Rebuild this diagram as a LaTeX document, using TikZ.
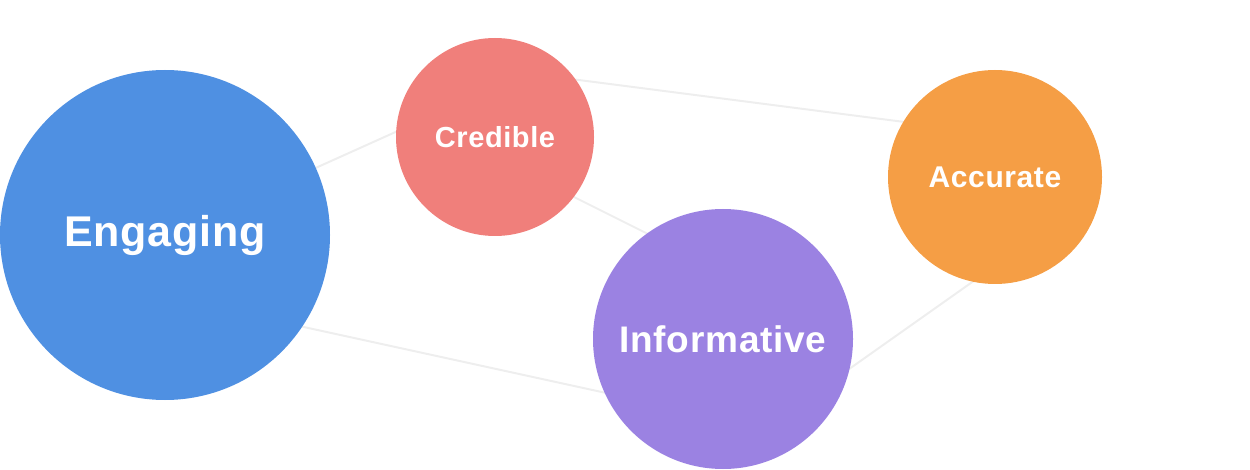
\documentclass[tikz,border=0pt]{standalone}
\usepackage{fontspec}
\setmainfont{Liberation Sans}[LetterSpace=2]
\definecolor{engblue}{HTML}{4F90E2}
\definecolor{credred}{HTML}{F07F7B}
\definecolor{accorange}{HTML}{F59E45}
\definecolor{infpurple}{HTML}{9B82E2}
\definecolor{linkgray}{HTML}{EEEEEE}
\tikzset{
  bubble/.style={circle, inner sep=0pt, text=white, font=\bfseries},
  link/.style={draw=linkgray, line width=2pt},
}
\begin{document}
\begin{tikzpicture}[x=1pt, y=-1pt]
  \useasboundingbox (0,0) rectangle (1250,470);
  % connector end points, hidden under the bubbles
  \coordinate (ec) at (300,175);  \coordinate (ce) at (420,121);
  \coordinate (ca) at (540,75);   \coordinate (ac) at (920,124);
  \coordinate (ci) at (560,190);  \coordinate (ic) at (660,240);
  \coordinate (ei) at (290,324);  \coordinate (ie) at (620,396);
  \coordinate (ia) at (835,379);  \coordinate (ai) at (985,273);
  \draw[link] (ec) -- (ce);
  \draw[link] (ca) -- (ac);
  \draw[link] (ci) -- (ic);
  \draw[link] (ei) -- (ie);
  \draw[link] (ia) -- (ai);
  % bubbles
  \node[bubble, fill=engblue, minimum size=330pt, font=\bfseries\fontsize{43}{50}\selectfont] (eng) at (165,235) {Engaging};
  \node[bubble, fill=credred, minimum size=198pt, font=\bfseries\fontsize{29}{34}\selectfont] (cred) at (495,137) {Credible};
  \node[bubble, fill=accorange, minimum size=214pt, font=\bfseries\fontsize{30}{35}\selectfont] (acc) at (995,177) {Accurate};
  \node[bubble, fill=infpurple, minimum size=260pt, font=\bfseries\fontsize{37}{44}\selectfont] (inf) at (723,339) {Informative};
\end{tikzpicture}
\end{document}
